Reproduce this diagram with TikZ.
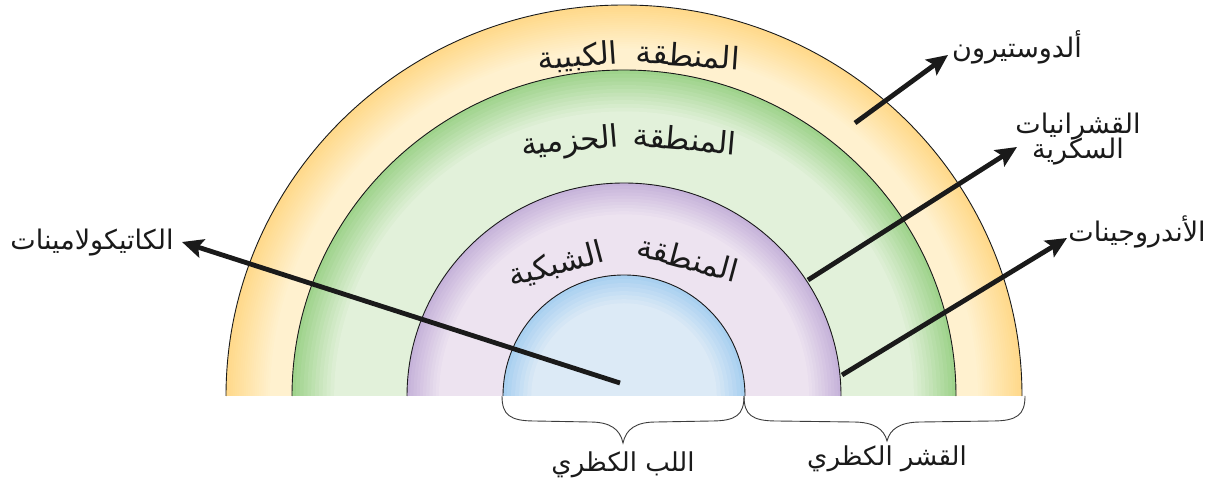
\documentclass[tikz,border=0pt]{standalone}
\usepackage{fontspec}
\usetikzlibrary{arrows.meta}
\newfontfamily\arabicfont[Script=Arabic]{DejaVu Sans}
\TeXXeTstate=1

\definecolor{ydark}{HTML}{FFD98A}
\definecolor{ylight}{HTML}{FFF1CF}
\definecolor{gdark}{HTML}{9FD38C}
\definecolor{glight}{HTML}{E2F1DA}
\definecolor{pdark}{HTML}{C6B3DA}
\definecolor{plight}{HTML}{EDE3F0}
\definecolor{bdark}{HTML}{A9D0F0}
\definecolor{blight}{HTML}{DCEAF6}
\definecolor{ink}{HTML}{1A1A1A}

% half ellipse band shaded from dark (outer edge) to light (inward)
% #1 outer x radius, #2 inner x radius, #3 dark, #4 light, #5 steps of fading
\newcommand\shadering[5]{%
  \foreach \i in {0,...,29}{%
    \pgfmathsetmacro\rr{#1-\i*(#1-#2)/30}%
    \pgfmathsetmacro\ry{\rr*(#1>130?0.982:1)}%
    \pgfmathsetmacro\pp{min(100,\i*100/#5)}%
    \pgfmathsetmacro\xs{624-\rr}%
    \fill[#4!\pp!#3] (\xs,83) arc[start angle=180,end angle=0,x radius=\rr pt,y radius=\ry pt] -- cycle;
  }}

\tikzset{
  zonelabel/.style={font=\arabicfont\fontsize{31}{34}\selectfont, text=ink, inner sep=0pt},
  sidelabel/.style={font=\arabicfont\fontsize{27}{30}\selectfont, text=ink, inner sep=0pt, align=center},
  baselabel/.style={font=\arabicfont\fontsize{26}{30}\selectfont, text=ink, inner sep=0pt},
  border/.style={draw=ink, line width=0.9pt},
  pointer/.style={draw=ink, line width=4.8pt, -{Stealth[length=21pt,width=19pt,inset=4pt]}},
  bracket/.style={draw=ink!85, line width=0.9pt},
}

\begin{document}
\begin{tikzpicture}[x=1pt,y=1pt]
\useasboundingbox (0,0) rectangle (1214,479);
\fill[white] (0,0) rectangle (1214,479);

% shaded zones, outermost first
\shadering{398}{332}{ydark}{ylight}{20}
\shadering{332}{217}{gdark}{glight}{11}
\shadering{217}{121}{pdark}{plight}{10}
\shadering{121}{0}{bdark}{blight}{7}

% zone outlines
\draw[border] (226,83) arc[start angle=180,end angle=0,x radius=398pt,y radius=391pt];
\draw[border] (292,83) arc[start angle=180,end angle=0,x radius=332pt,y radius=326pt];
\draw[border] (407,83) arc[start angle=180,end angle=0,x radius=217pt,y radius=213pt];
\draw[border] (503,83) arc[start angle=180,end angle=0,x radius=121pt,y radius=121pt];

% zone names, one word at a time along the arcs
\node[zonelabel, rotate=-4] (zg1) at (688,424) {\beginR المنطقة\endR};
\node[zonelabel, rotate=4] (zg2) at (578,422) {\beginR الكبيبة\endR};
\node[zonelabel, rotate=-5] (zf1) at (685,340) {\beginR المنطقة\endR};
\node[zonelabel, rotate=5] (zf2) at (570,336) {\beginR الحزمية\endR};
\node[zonelabel, rotate=-15] (zr1) at (688,221) {\beginR المنطقة\endR};
\node[zonelabel, rotate=15] (zr2) at (556,214) {\beginR الشبكية\endR};

% secreted hormones
\node[sidelabel] (cat) at (92,236) {\beginR الكاتيكولامينات\endR};
\node[sidelabel] (ald) at (1017,432) {\beginR ألدوستيرون\endR};
\node[sidelabel] (glu) at (1078,340) {\beginR القشرانيات\endR\\[-5pt]\beginR السكرية\endR};
\node[sidelabel] (andr) at (1137,247) {\beginR الأندروجينات\endR};

\coordinate (catS) at (620,96);   \coordinate (catT) at (182,237);
\coordinate (aldS) at (855,356);  \coordinate (aldT) at (948,424);
\coordinate (gluS) at (808,199);  \coordinate (gluT) at (1017,332);
\coordinate (andS) at (842,104);  \coordinate (andT) at (1067,241);

\draw[pointer] (catS) -- (catT);
\draw[pointer] (aldS) -- (aldT);
\draw[pointer] (gluS) -- (gluT);
\draw[pointer] (andS) -- (andT);

% braces under medulla and cortex
\coordinate (mL) at (502,83);  \coordinate (mR) at (744,83);
\coordinate (cR) at (1025,83);
\coordinate (mTip) at (623,36); \coordinate (cTip) at (887,38);

\draw[bracket] (mL) .. controls (502,64) and (510,58) .. (535,58) -- (590,57)
  .. controls (610,57) and (620,50) .. (mTip)
  .. controls (626,50) and (636,57) .. (656,57) -- (711,58)
  .. controls (736,58) and (744,64) .. (mR);
\draw[bracket] (mR) .. controls (744,64) and (752,58) .. (777,58) -- (853,57)
  .. controls (874,57) and (884,50) .. (cTip)
  .. controls (890,50) and (900,57) .. (921,57) -- (992,58)
  .. controls (1017,58) and (1025,64) .. (cR);

\node[baselabel] (med) at (623,14) {\beginR اللب الكظري\endR};
\node[baselabel] (cor) at (887,20) {\beginR القشر الكظري\endR};
\end{tikzpicture}
\end{document}
